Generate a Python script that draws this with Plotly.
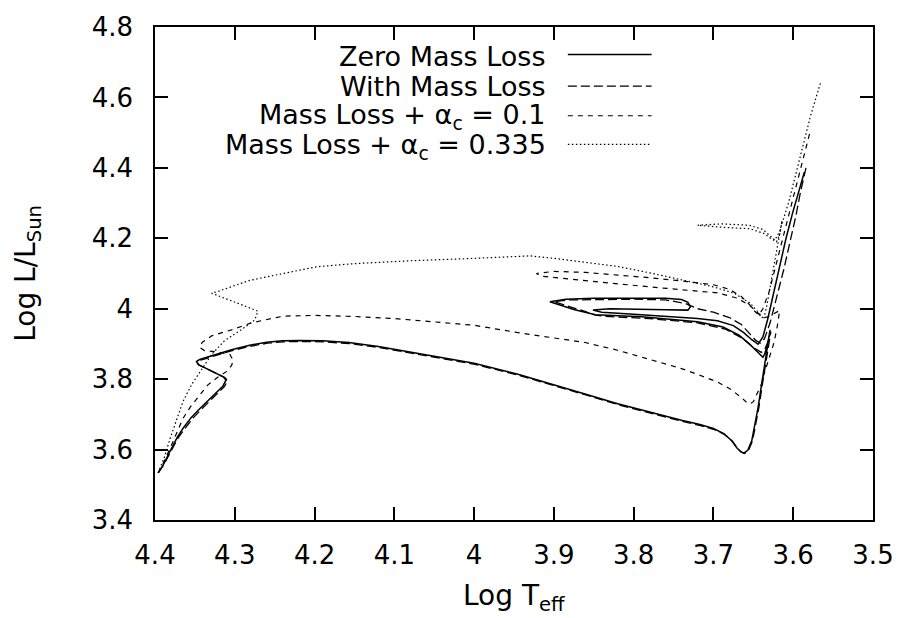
import plotly.graph_objects as go

# ---- data ----
zml_logT = [4.396,4.390,4.381,4.372,4.365,4.355,4.344,4.333,4.323,4.315,
            4.311,4.314,4.322,4.335,4.346,4.348,4.344,4.335,4.320,4.303,
            4.280,4.260,4.240,4.219,4.190,4.157,4.120,4.082,4.040,4.000,
            3.945,3.900,3.861,3.820,3.779,3.740,3.717,3.700,3.687,3.677,
            3.671,3.666,3.662,3.657,3.652,3.648,3.644,3.640,3.636,3.632,
            3.629,
            3.632,3.636,3.638,
            3.645,3.655,3.668,3.688,3.720,3.790,3.848,3.875,3.905,
            3.885,3.850,3.800,3.760,3.740,3.732,3.729,3.732,
            3.760,3.800,3.830,3.851,
            3.840,3.800,3.750,3.720,3.695,3.675,3.662,3.652,3.644,
            3.638,3.632,3.625,3.617,3.609,3.601,3.593,3.586]
zml_logL = [3.534,3.555,3.596,3.635,3.660,3.690,3.716,3.740,3.762,3.780,
            3.797,3.806,3.815,3.830,3.842,3.850,3.856,3.862,3.873,3.884,
            3.897,3.905,3.909,3.910,3.909,3.904,3.893,3.878,3.862,3.845,
            3.814,3.785,3.758,3.730,3.705,3.683,3.671,3.660,3.645,3.625,
            3.606,3.594,3.590,3.598,3.625,3.670,3.720,3.780,3.840,3.900,
            3.940,
            3.900,3.870,3.862,
            3.878,3.900,3.925,3.948,3.963,3.977,3.983,3.998,4.020,
            4.027,4.030,4.031,4.030,4.026,4.018,4.005,3.996,
            3.997,3.999,4.000,3.996,
            3.990,3.984,3.977,3.972,3.966,3.952,3.932,3.912,3.899,
            3.920,3.970,4.040,4.120,4.200,4.270,4.330,4.388]

wml_logT = [4.396,4.389,4.380,4.371,4.363,4.353,4.342,4.331,4.321,4.313,
            4.309,4.312,4.320,4.333,4.345,4.347,4.343,4.334,4.319,4.302,
            4.279,4.259,4.239,4.218,4.189,4.156,4.119,4.081,4.039,3.999,
            3.944,3.899,3.860,3.819,3.778,3.739,3.716,3.699,3.686,3.676,
            3.670,3.665,3.661,3.656,3.651,3.647,3.643,3.639,3.635,3.631,
            3.628,
            3.632,3.636,3.640,
            3.650,3.665,3.685,3.720,3.780,3.835,3.848,3.862,3.882,3.900,
            3.880,3.840,3.800,3.760,3.735,3.720,3.700,3.680,3.665,3.655,3.647,3.641,
            3.636,3.629,3.621,3.612,3.604,3.597,3.591,3.584]
wml_logL = [3.534,3.557,3.595,3.633,3.658,3.688,3.714,3.738,3.760,3.779,
            3.795,3.804,3.813,3.828,3.840,3.848,3.854,3.860,3.871,3.882,
            3.894,3.902,3.906,3.907,3.906,3.901,3.890,3.875,3.859,3.842,
            3.811,3.782,3.755,3.727,3.702,3.680,3.668,3.657,3.643,3.623,
            3.604,3.593,3.589,3.597,3.625,3.670,3.720,3.780,3.840,3.900,
            3.935,
            3.905,3.882,3.876,
            3.890,3.918,3.942,3.960,3.972,3.978,3.982,3.993,4.008,4.020,
            4.025,4.027,4.027,4.025,4.015,4.000,3.990,3.975,3.955,3.930,3.910,3.902,
            3.915,3.960,4.030,4.110,4.190,4.260,4.330,4.400]

a01_logT = [4.396,4.390,4.381,4.373,4.365,4.356,4.346,4.334,4.321,4.310,
            4.304,4.302,4.306,4.313,4.325,4.338,4.344,4.341,4.329,4.304,
            4.279,4.250,4.238,4.200,4.150,4.100,4.050,4.000,3.945,3.900,
            3.861,3.820,3.779,3.740,3.717,3.695,3.679,3.665,3.658,3.654,
            3.650,3.646,3.640,3.637,3.630,3.624,3.620,3.617,
            3.625,3.633,3.639,
            3.645,3.655,3.670,3.695,3.733,3.780,3.830,3.880,3.915,3.922,
            3.900,3.860,3.820,3.780,3.733,3.700,3.680,3.665,3.655,3.648,3.643,
            3.638,3.630,3.622,3.613,3.604,3.595,3.587,3.578]
a01_logL = [3.534,3.560,3.604,3.645,3.688,3.720,3.750,3.783,3.806,3.822,
            3.839,3.853,3.870,3.873,3.878,3.881,3.890,3.904,3.923,3.940,
            3.960,3.974,3.979,3.981,3.978,3.972,3.963,3.953,3.932,3.918,
            3.904,3.882,3.856,3.830,3.811,3.792,3.772,3.748,3.733,3.730,
            3.736,3.755,3.785,3.811,3.860,3.904,3.950,3.995,
            3.985,3.976,3.974,
            3.990,4.010,4.030,4.045,4.052,4.062,4.073,4.083,4.092,4.100,
            4.106,4.103,4.096,4.088,4.077,4.068,4.055,4.035,4.012,3.992,3.982,
            4.000,4.050,4.120,4.200,4.280,4.360,4.430,4.510]

a335_logT = [4.396,4.388,4.381,4.373,4.365,4.354,4.341,4.329,4.313,4.292,
             4.275,4.271,4.290,4.310,4.329,4.320,4.300,4.282,4.250,4.198,
             4.150,4.082,4.000,3.945,3.930,3.900,3.860,3.820,3.780,3.737,
             3.700,3.674,3.654,3.642,3.637,
             3.633,3.629,3.625,3.621,3.617,3.614,
             3.617,3.621,
             3.627,3.637,3.654,3.687,3.720,
             3.690,3.655,3.638,3.628,3.623,
             3.617,3.606,3.597,3.588,3.578,3.566]
a335_logL = [3.534,3.580,3.632,3.685,3.736,3.785,3.828,3.870,3.909,3.940,
             3.968,3.993,4.010,4.027,4.044,4.050,4.066,4.080,4.095,4.119,
             4.128,4.136,4.143,4.148,4.150,4.143,4.132,4.120,4.102,4.080,
             4.062,4.044,4.016,3.985,3.970,
             4.010,4.060,4.110,4.160,4.210,4.250,
             4.210,4.190,
             4.198,4.214,4.227,4.231,4.237,
             4.241,4.237,4.225,4.205,4.195,
             4.220,4.300,4.380,4.460,4.550,4.640]

series_names = ["Zero Mass Loss", "With Mass Loss",
                "Mass Loss + α<sub>c</sub> = 0.1", "Mass Loss + α<sub>c</sub> = 0.335"]

x_tickvals = [4.4, 4.3, 4.2, 4.1, 4.0, 3.9, 3.8, 3.7, 3.6, 3.5]
x_ticktext = ["4.4", "4.3", "4.2", "4.1", "4", "3.9", "3.8", "3.7", "3.6", "3.5"]
y_tickvals = [3.4, 3.6, 3.8, 4.0, 4.2, 4.4, 4.6, 4.8]
y_ticktext = ["3.4", "3.6", "3.8", "4", "4.2", "4.4", "4.6", "4.8"]

# ---- styles ----
FONT = "DejaVu Sans, Liberation Sans, Arial, sans-serif"
FS_TICK, FS_KEY, FS_TITLE = 26, 27, 28
styles = [
    dict(color="black", width=1.5, dash="solid"),
    dict(color="black", width=1.3, dash="9px,4px"),
    dict(color="black", width=1.2, dash="5px,5px"),
    dict(color="black", width=1.2, dash="1.5px,2.5px"),
]
tracks = [(zml_logT, zml_logL), (wml_logT, wml_logL),
          (a01_logT, a01_logL), (a335_logT, a335_logL)]

fig = go.Figure()
for (tx, ly), st, nm in zip(tracks, styles, series_names):
    fig.add_trace(go.Scatter(x=tx, y=ly, mode="lines", line=st, name=nm,
                             showlegend=False, hoverinfo="skip"))

W, H = 906, 618
# plot frame in pixels: x 155..875, y 20..520
L_, R_, T_, B_ = 155, 875, 20, 520
def px2paper_x(px):
    return (px - L_) / (R_ - L_)
def py2paper_y(py):
    return (B_ - py) / (B_ - T_)

# gnuplot-style key: right-aligned text, sample line at the right
key_text_y = [50, 80, 111, 141]
key_line_y = [48, 80, 110, 139]
for i, (nm, st) in enumerate(zip(series_names, styles)):
    fig.add_annotation(x=px2paper_x(549), y=py2paper_y(key_text_y[i]),
                       xref="paper", yref="paper", text=nm, showarrow=False,
                       xanchor="right", yanchor="middle",
                       font=dict(family=FONT, size=FS_KEY, color="black"))
    fig.add_shape(type="line", xref="paper", yref="paper",
                  x0=px2paper_x(569), x1=px2paper_x(653),
                  y0=py2paper_y(key_line_y[i]), y1=py2paper_y(key_line_y[i]),
                  line=st)

# axis titles
fig.add_annotation(x=px2paper_x(515), y=py2paper_y(599), xref="paper", yref="paper",
                   text="Log T<sub>eff</sub>", showarrow=False,
                   xanchor="center", yanchor="middle",
                   font=dict(family=FONT, size=FS_TITLE, color="black"))
fig.add_annotation(x=px2paper_x(27), y=py2paper_y(270), xref="paper", yref="paper",
                   text="Log L/L<sub>Sun</sub>", showarrow=False, textangle=-90,
                   xanchor="center", yanchor="middle",
                   font=dict(family=FONT, size=FS_TITLE, color="black"))

axis_common = dict(showline=True, linecolor="black", linewidth=1.5, mirror="ticks",
                   ticks="inside", ticklen=13, tickwidth=1.5, tickcolor="black",
                   showgrid=False, zeroline=False, ticklabeloverflow="allow",
                   tickfont=dict(family=FONT, size=FS_TICK, color="black"))
fig.update_xaxes(range=[4.4, 3.5], tickmode="array", tickvals=x_tickvals,
                 ticktext=x_ticktext, ticklabelstandoff=11, **axis_common)
fig.update_yaxes(range=[3.4, 4.8], tickmode="array", tickvals=y_tickvals,
                 ticktext=y_ticktext, ticklabelstandoff=15, **axis_common)

fig.update_layout(width=W, height=H, plot_bgcolor="white", paper_bgcolor="white",
                  margin=dict(l=L_, r=W - R_, t=T_, b=H - B_),
                  font=dict(family=FONT, size=FS_TICK, color="black"))

fig.write_html("out.html", config={"displayModeBar": False},
               post_script="document.body.style.margin='0';document.body.style.overflow='hidden';")
